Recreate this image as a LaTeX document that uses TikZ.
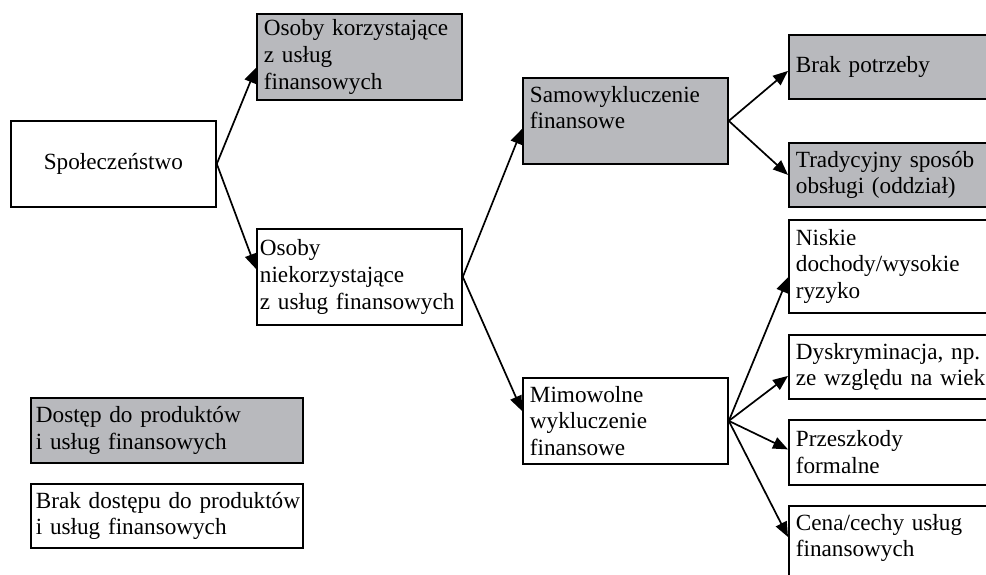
\documentclass[tikz,border=0pt]{standalone}
\usepackage{fontspec}
\setmainfont{Liberation Serif}
\usetikzlibrary{arrows.meta}
\usetikzlibrary{calc}
\definecolor{boxgrey}{RGB}{184,185,189}
\tikzset{
      box/.style={draw=black, line width=1.8pt, rectangle, anchor=north west,
            inner xsep=7pt, inner ysep=0pt, minimum height=86pt, text width=191pt, align=left,
            font=\fontsize{23.2pt}{26.7pt}\selectfont},
      greybox/.style={box, fill=boxgrey},
      whitebox/.style={box, fill=white},
      rightbox/.style={inner xsep=7pt, text width=200pt},
      keybox/.style={inner xsep=5pt, text width=262pt, minimum height=65pt},
      link/.style={draw=black, line width=1.7pt, -{Triangle[length=15pt,width=12pt]}},
}
\begin{document}
\begin{tikzpicture}[x=1pt,y=-1pt]
        \useasboundingbox (0,0) rectangle (986,574);
        \clip (0,0) rectangle (986,574);

        % the society and the two groups
        \node[whitebox, align=center] (spol) at (10,120) {Społeczeństwo};
        \node[greybox] (korz) at (256,13) {Osoby korzystające\\z usług\\finansowych};
        \node[whitebox, minimum height=96pt, inner xsep=3pt, text width=199pt] (niekorz) at (256,228) {Osoby\\niekorzystające\\\mbox{z usług finansowych}};

        % kinds of exclusion
        \node[greybox] (samo) at (522,77) {Samowykluczenie\\finansowe\\\mbox{}};
        \node[whitebox] (mimo) at (522,377) {Mimowolne\\wykluczenie\\finansowe};

        % reasons
        \node[greybox, rightbox, minimum height=64pt] (brak) at (788,34) {Brak potrzeby};
        \node[greybox, rightbox, minimum height=64pt] (trad) at (788,142) {Tradycyjny sposób\\obsługi (oddział)};
        \node[whitebox, rightbox, minimum height=93pt] (nisk) at (788,219) {Niskie\\dochody/wysokie\\ryzyko};
        \node[whitebox, rightbox, minimum height=64pt] (dysk) at (788,334) {\mbox{Dyskryminacja, np.}\\\mbox{ze względu na wiek}};
        \node[whitebox, rightbox, minimum height=65pt] (prze) at (788,419) {Przeszkody\\formalne};
        \node[whitebox, rightbox, minimum height=86pt] (cena) at (788,505) {Cena/cechy usług\\finansowych\\\mbox{}};

        % legend
        \node[greybox, keybox] (dost) at (30,397) {Dostęp do produktów\\i usług finansowych};
        \node[whitebox, keybox, minimum height=64pt] (bdost) at (30,483) {\mbox{Brak dostępu do produktów}\\i usług finansowych};

        % arrows
        \draw[link] (spol.east) -- ($(korz.west)+(0,11)$);
        \draw[link] (spol.east) -- ($(niekorz.west)+(0,-8)$);
        \draw[link] (niekorz.east) -- ($(samo.west)+(0,8)$);
        \draw[link] (niekorz.east) -- ($(mimo.west)+(0,-10)$);
        \draw[link] (samo.east) -- ($(brak.west)+(0,4)$);
        \draw[link] (samo.east) -- (trad.west);
        \draw[link] (mimo.east) -- ($(nisk.west)+(0,11)$);
        \draw[link] (mimo.east) -- ($(dysk.west)+(0,9)$);
        \draw[link] (mimo.east) -- ($(prze.west)+(0,-3)$);
        \draw[link] (mimo.east) -- ($(cena.north west)+(0,32)$);

\end{tikzpicture}
\end{document}
